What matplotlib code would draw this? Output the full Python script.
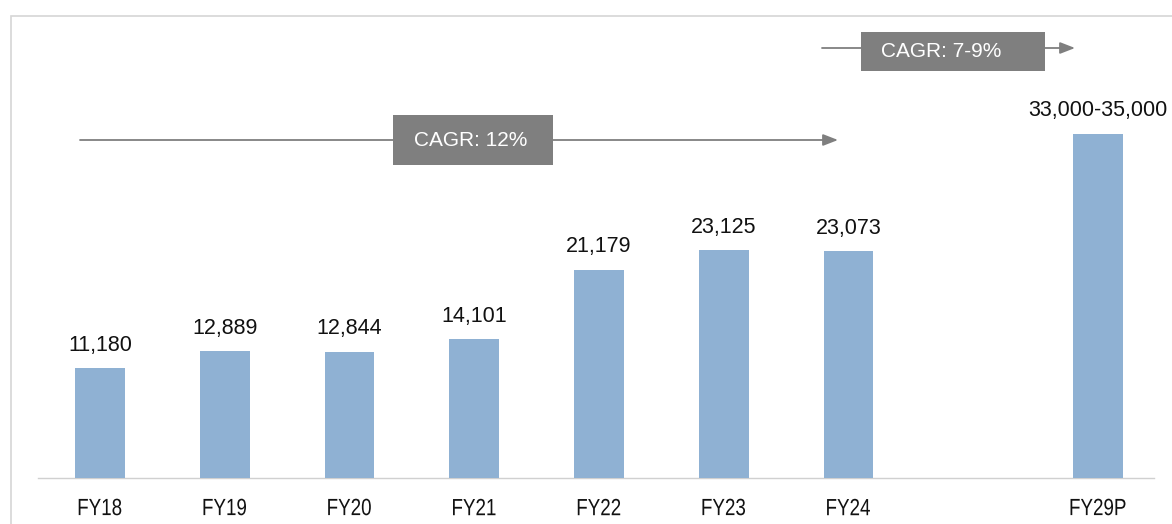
import matplotlib
matplotlib.use("Agg")
import matplotlib.pyplot as plt
from matplotlib.patches import Rectangle, PathPatch
from matplotlib.textpath import TextPath
from matplotlib.font_manager import FontProperties
from matplotlib.transforms import Affine2D, IdentityTransform

# Data
categories = ["FY18", "FY19", "FY20", "FY21", "FY22", "FY23", "FY24", "FY29P"]
positions = [0, 1, 2, 3, 4, 5, 6, 8]
values = [11180, 12889, 12844, 14101, 21179, 23125, 23073, 35000]
value_labels = ["11,180", "12,889", "12,844", "14,101", "21,179", "23,125", "23,073", "33,000-35,000"]
cagr_labels = ["CAGR: 12%", "CAGR: 7-9%"]

W, H = 1172, 524
fig = plt.figure(figsize=(W / 100, H / 100), dpi=100)
ax = fig.add_axes([0, 0, 1, 1])

BAR_COLOR = "#8fb1d3"
TEXT_COLOR = "#111111"
px_per_unit_x = 124.75
x0_px = 100
base_px = 46            # baseline height from bottom, px
px_per_val = 0.00984

ax.set_xlim(-x0_px / px_per_unit_x, (W - x0_px) / px_per_unit_x)
ax.set_ylim(-base_px / px_per_val, (H - base_px) / px_per_val)
ax.axis("off")

ax.bar(positions, values, width=0.4, color=BAR_COLOR, edgecolor="none", zorder=2)

for x, v, lab in zip(positions, values, value_labels):
    ax.text(x, v + 1250, lab, ha="center", va="bottom", fontsize=15.5,
            family="Liberation Sans", color=TEXT_COLOR)

# condensed category labels drawn as text paths
arial = FontProperties(family="Liberation Sans")
EM_PX = 23.5
X_SQUEEZE = 0.8
for x, c in zip(positions, categories):
    tp = TextPath((0, 0), c, size=1, prop=arial)
    ext = tp.get_extents()
    cx, _ = ax.transData.transform((x, 0))
    cy = 17  # vertical centre of labels, px from bottom
    tr = (Affine2D()
          .translate(-(ext.x0 + ext.x1) / 2, -(ext.y0 + ext.y1) / 2)
          .scale(EM_PX * X_SQUEEZE, EM_PX)
          .translate(cx, cy))
    fig.patches.append(PathPatch(tr.transform_path(tp), transform=IdentityTransform(),
                                 facecolor=TEXT_COLOR, edgecolor="none", figure=fig))

# baseline
ax.plot([-0.5, 8.45], [0, 0], color="#d0d0d0", lw=1, zorder=1)

def fx(px):
    return px / W

def fy(py):
    return 1 - py / H

# outer frame
frame = Rectangle((fx(11), fy(600)), 2, fy(16) - fy(600), transform=ax.transAxes,
                  fill=False, edgecolor="#d6d6d6", lw=1.2, clip_on=False)
ax.add_patch(frame)

def cagr_arrow(x_start, x_end, y, box, text, text_x):
    ax.annotate("", xy=(fx(x_end), fy(y)), xytext=(fx(x_start), fy(y)),
                xycoords="axes fraction", textcoords="axes fraction",
                arrowprops=dict(arrowstyle="-|>,head_length=0.9,head_width=0.35",
                                color="#7f7f7f", lw=1.3, shrinkA=0, shrinkB=0),
                zorder=3)
    bx0, bx1, by0, by1 = box
    ax.add_patch(Rectangle((fx(bx0), fy(by1)), fx(bx1) - fx(bx0), fy(by0) - fy(by1),
                           transform=ax.transAxes, facecolor="#7f7f7f",
                           edgecolor="none", zorder=4))
    ax.text(fx(text_x), fy((by0 + by1) / 2), text, transform=ax.transAxes,
            ha="center", va="center", color="white", fontsize=15,
            family="Liberation Sans", zorder=5)

cagr_arrow(80, 838, 140, (393, 553, 115, 165), cagr_labels[0], 471)
cagr_arrow(822, 1075, 48, (861, 1045, 32, 71), cagr_labels[1], 941)

fig.savefig("out.png", dpi=100, facecolor="white")
